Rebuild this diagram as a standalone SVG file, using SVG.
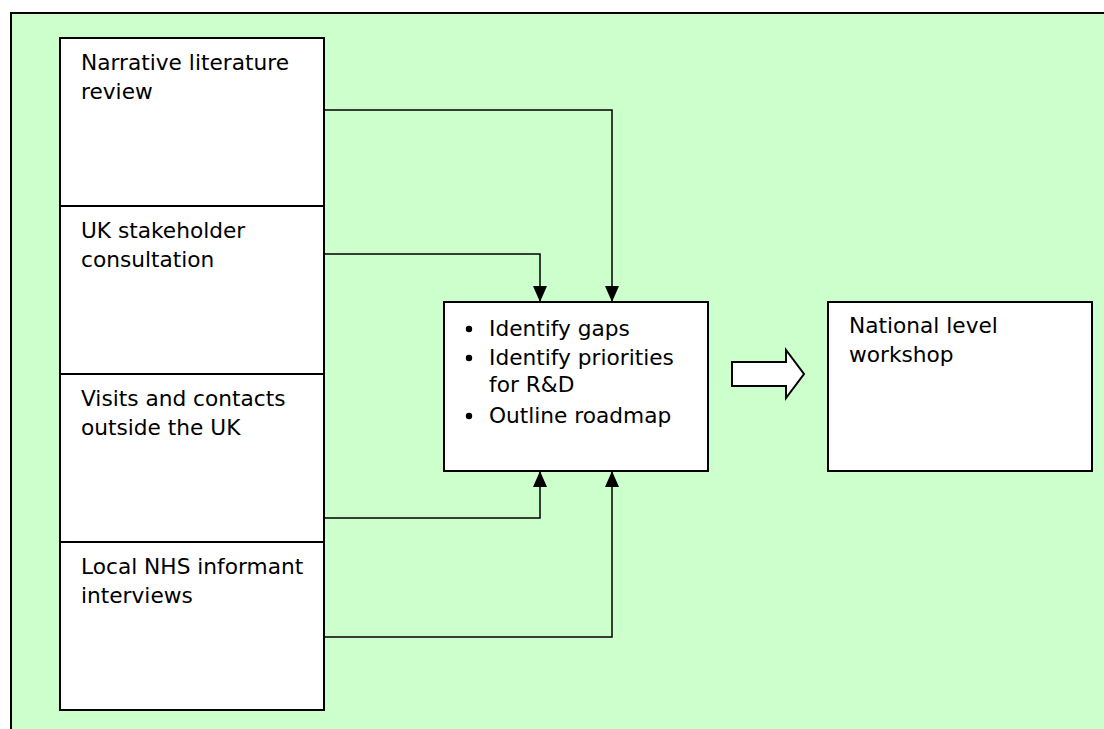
<svg xmlns="http://www.w3.org/2000/svg" width="1104" height="729" viewBox="0 0 1104 729">
  <style>
    .box { fill: #ffffff; stroke: #000000; stroke-width: 2; }
    .lbl { font-family: "DejaVu Sans", "Liberation Sans", sans-serif; font-size: 21.7px; fill: #000000; }
    .conn { fill: none; stroke: #000000; stroke-width: 1.5; }
    .dot { fill: #000000; }
  </style>
  <defs>
    <marker id="head" markerUnits="userSpaceOnUse" markerWidth="16" markerHeight="14" refX="16" refY="7" orient="auto">
      <path d="M0,0 L16,7 L0,14 z" fill="#000000"/>
    </marker>
  </defs>

  <!-- page background panel -->
  <rect x="0" y="0" width="1104" height="729" fill="#ffffff"/>
  <rect id="panel" x="11" y="13" width="1100" height="730" fill="#ccffcc" stroke="#000000" stroke-width="2"/>

  <!-- connectors -->
  <g id="connectors">
    <path class="conn" d="M324,110 H612 V302" marker-end="url(#head)"/>
    <path class="conn" d="M324,254 H540 V302" marker-end="url(#head)"/>
    <path class="conn" d="M324,518 H540 V471" marker-end="url(#head)"/>
    <path class="conn" d="M324,637 H612 V471" marker-end="url(#head)"/>
    <path id="block-arrow" d="M732,362 H786 V350 L804,374 L786,398 V386 H732 Z" fill="#ffffff" stroke="#000000" stroke-width="2"/>
  </g>

  <!-- source activities -->
  <g id="literature">
    <rect class="box" x="60" y="38" width="264" height="168"/>
    <text class="lbl" x="81" y="70">Narrative literature</text>
    <text class="lbl" x="81" y="99">review</text>
  </g>
  <g id="stakeholder">
    <rect class="box" x="60" y="206" width="264" height="168"/>
    <text class="lbl" x="81" y="238">UK stakeholder</text>
    <text class="lbl" x="81" y="267">consultation</text>
  </g>
  <g id="visits">
    <rect class="box" x="60" y="374" width="264" height="168"/>
    <text class="lbl" x="81" y="406">Visits and contacts</text>
    <text class="lbl" x="81" y="435">outside the UK</text>
  </g>
  <g id="nhs">
    <rect class="box" x="60" y="542" width="264" height="168"/>
    <text class="lbl" x="81" y="574">Local NHS informant</text>
    <text class="lbl" x="81" y="603">interviews</text>
  </g>

  <!-- synthesis -->
  <g id="synthesis">
    <rect class="box" x="444" y="302" width="264" height="169"/>
    <circle class="dot" cx="469" cy="329" r="3.2"/>
    <text class="lbl" x="489" y="336">Identify gaps</text>
    <circle class="dot" cx="469" cy="358" r="3.2"/>
    <text class="lbl" x="489" y="365">Identify priorities</text>
    <text class="lbl" x="489" y="392">for R&amp;D</text>
    <circle class="dot" cx="469" cy="416" r="3.2"/>
    <text class="lbl" x="489" y="423">Outline roadmap</text>
  </g>

  <!-- output -->
  <g id="workshop">
    <rect class="box" x="828" y="302" width="264" height="169"/>
    <text class="lbl" x="849" y="333">National level</text>
    <text class="lbl" x="849" y="362">workshop</text>
  </g>
</svg>
